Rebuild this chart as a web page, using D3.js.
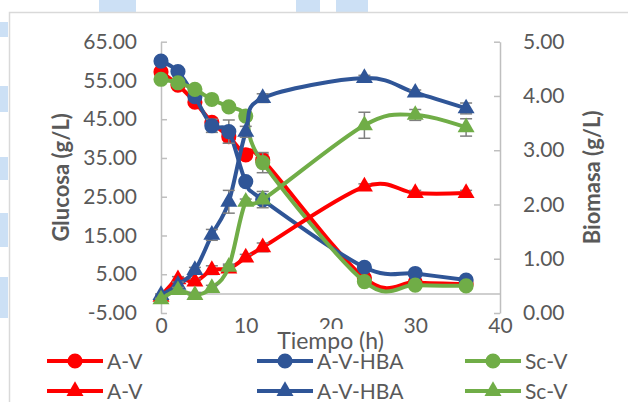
<!DOCTYPE html>
<html>
<head>
<meta charset="utf-8">
<script src="https://cdn.jsdelivr.net/npm/d3@7"></script>
<style>
  body { margin: 0; background: #fff; overflow: hidden; }
  text { font-family: Lato, "Open Sans", sans-serif; fill: #595959; }
</style>
</head>
<body>
<div id="chart-area"></div>
<script>
/******************************
*            DATA             *
******************************/
var tiempo = [0, 2, 4, 6, 8, 10, 12, 24, 30, 36];

// glucosa (eje izquierdo)
var glucAV    = [57.2, 53.8, 49.4, 44.2, 40.5, 35.8, 34.5, 4.0, 2.9, 2.5];
var glucAVHBA = [60.0, 57.3, 50.8, 43.3, 41.8, 28.9, 24.2, 6.8, 5.2, 3.5];
var glucScV   = [55.3, 54.4, 52.7, 50.1, 48.2, 45.8, 33.8, 3.1, 2.2, 2.0];
var errGlucAV    = [0.5, 0.5, 0.8, 1.0, 1.7, 1.0, 1.5, 0.3, 0.3, 0.3];
var errGlucAVHBA = [0.5, 0.5, 0.8, 1.7, 3.0, 1.0, 1.0, 0.5, 0.5, 0.3];
var errGlucScV   = [0.5, 0.5, 0.5, 0.5, 0.5, 1.0, 2.6, 0.3, 0.3, 0.3];

// biomasa (eje derecho)
var bioAV    = [0.30, 0.62, 0.58, 0.79, 0.82, 1.02, 1.21, 2.33, 2.21, 2.21];
var bioAVHBA = [0.33, 0.52, 0.79, 1.44, 2.05, 3.34, 3.96, 4.33, 4.06, 3.77];
var bioScV   = [0.25, 0.42, 0.33, 0.46, 0.85, 2.05, 2.09, 3.46, 3.65, 3.42];
var errBioAV    = [0.02, 0.05, 0.05, 0.08, 0.05, 0.06, 0.08, 0.05, 0.05, 0.05];
var errBioAVHBA = [0.02, 0.05, 0.05, 0.10, 0.21, 0.10, 0.08, 0.05, 0.05, 0.10];
var errBioScV   = [0.02, 0.05, 0.05, 0.05, 0.05, 0.05, 0.15, 0.24, 0.10, 0.16];

var leftTicks = [-5, 5, 15, 25, 35, 45, 55, 65];
var rightTicks = [0, 1, 2, 3, 4, 5];
var xTicks = [0, 10, 20, 30, 40];

var names = ["A-V", "A-V-HBA", "Sc-V"];
var colors = ["#FF0000", "#2F5597", "#70AD47"];

/******************************
*     DIMENSIONS AND SVG      *
******************************/
var W = 628, H = 402;
var plot = { left: 161, right: 500, top: 41.7, bottom: 313 };

var svg = d3.select("#chart-area")
  .append("svg")
    .attr("width", W)
    .attr("height", H);

// page decorations behind the chart
var deco = [[0, 22, 8, 15], [0, 86, 8, 26], [0, 157, 8, 23], [0, 213, 8, 34], [0, 277, 8, 41],
            [99, 0, 37, 12], [296, 0, 24, 12], [336, 0, 32, 12]];
svg.selectAll(".deco").data(deco).enter().append("rect")
  .attr("x", d => d[0]).attr("y", d => d[1])
  .attr("width", d => d[2]).attr("height", d => d[3])
  .attr("fill", "#CCE0F5");

// chart frame
svg.append("rect")
  .attr("x", 9.5).attr("y", 12.5)
  .attr("width", 660).attr("height", 420)
  .attr("fill", "#fff")
  .attr("stroke", "#D9D9D9")
  .attr("stroke-width", 1.5);

/******************************
*           SCALES            *
******************************/
var x = d3.scaleLinear().domain([0, 40]).range([plot.left, plot.right]);
var yL = d3.scaleLinear().domain([-5, 65]).range([plot.bottom, plot.top]);
var yR = d3.scaleLinear().domain([0, 5]).range([plot.bottom, plot.top]);

// hyphen instead of unicode minus, like the original
var fmt2 = d => d3.format(".2f")(d).replace("\u2212", "-");

/******************************
*            AXES             *
******************************/
function styleAxis(g) {
  g.select(".domain").attr("stroke", "#BFBFBF").attr("stroke-width", 1.5);
  g.selectAll(".tick line").attr("stroke", "#BFBFBF").attr("stroke-width", 1.5);
  g.selectAll("text").attr("fill", "#595959").style("font-size", "21px")
    .style("font-family", "Lato, sans-serif");
}

var yLAxis = svg.append("g")
  .attr("transform", "translate(" + plot.left + ",0)")
  .call(d3.axisLeft(yL).tickValues(leftTicks).tickFormat(fmt2)
        .tickSizeInner(-6).tickSizeOuter(0).tickPadding(24));
styleAxis(yLAxis);

var yRAxis = svg.append("g")
  .attr("transform", "translate(" + plot.right + ",0)")
  .call(d3.axisRight(yR).tickValues(rightTicks).tickFormat(fmt2)
        .tickSizeInner(-6).tickSizeOuter(0).tickPadding(23));
styleAxis(yRAxis);

var xAxis = svg.append("g")
  .attr("transform", "translate(0," + yL(0) + ")")
  .call(d3.axisBottom(x).tickValues(xTicks).tickFormat(d3.format("d"))
        .tickSize(0).tickPadding(24));
styleAxis(xAxis);

// axis titles
svg.append("text")
  .attr("transform", "translate(69," + ((plot.top + plot.bottom) / 2) + ") rotate(-90)")
  .attr("text-anchor", "middle")
  .style("font-size", "22px").style("font-weight", "bold")
  .text("Glucosa (g/L)");

svg.append("text")
  .attr("transform", "translate(600," + ((plot.top + plot.bottom) / 2) + ") rotate(-90)")
  .attr("text-anchor", "middle")
  .style("font-size", "22px").style("font-weight", "bold")
  .text("Biomasa (g/L)");

var xTitleBg = svg.append("rect").attr("fill", "#fff");
var xTitle = svg.append("text")
  .attr("x", (plot.left + plot.right) / 2)
  .attr("y", 349)
  .attr("text-anchor", "middle")
  .style("font-size", "23px")
  .text("Tiempo (h)");
var bb = xTitle.node().getBBox();
xTitleBg.attr("x", bb.x).attr("y", bb.y + 3).attr("width", bb.width).attr("height", bb.height - 3);

/******************************
*           SERIES            *
******************************/
var line = d3.line().curve(d3.curveCardinal.tension(0));
var circleSym = d3.symbol().type(d3.symbolCircle).size(180);
var triSym = d3.symbol().type(d3.symbolTriangle).size(125);

function drawSeries(vals, errs, yScale, color, sym) {
  var pts = tiempo.map((t, i) => ({ t: t, v: vals[i], e: errs[i] }));
  var g = svg.append("g");

  g.append("path")
    .attr("d", line(pts.map(d => [x(d.t), yScale(d.v)])))
    .attr("fill", "none")
    .attr("stroke", color)
    .attr("stroke-width", 4)
    .attr("stroke-linejoin", "round");

  // error bars
  var eb = g.selectAll(".err").data(pts).enter().append("g")
    .attr("stroke", "#7F7F7F").attr("stroke-width", 1.5);
  eb.append("line")
    .attr("x1", d => x(d.t)).attr("x2", d => x(d.t))
    .attr("y1", d => yScale(d.v - d.e)).attr("y2", d => yScale(d.v + d.e));
  [-1, 1].forEach(function(s) {
    eb.append("line")
      .attr("x1", d => x(d.t) - 6).attr("x2", d => x(d.t) + 6)
      .attr("y1", d => yScale(d.v + s * d.e)).attr("y2", d => yScale(d.v + s * d.e));
  });

  g.selectAll(".mk").data(pts).enter().append("path")
    .attr("d", sym)
    .attr("transform", d => "translate(" + x(d.t) + "," + yScale(d.v) + ")")
    .attr("fill", color);
}

drawSeries(glucAV, errGlucAV, yL, colors[0], circleSym);
drawSeries(glucAVHBA, errGlucAVHBA, yL, colors[1], circleSym);
drawSeries(glucScV, errGlucScV, yL, colors[2], circleSym);
drawSeries(bioAV, errBioAV, yR, colors[0], triSym);
drawSeries(bioAVHBA, errBioAVHBA, yR, colors[1], triSym);
drawSeries(bioScV, errBioScV, yR, colors[2], triSym);

/******************************
*           LEGEND            *
******************************/
var legendX = [75, 285, 493];
var legendRows = [{ y: 361, sym: circleSym }, { y: 391, sym: triSym }];

legendRows.forEach(function(row) {
  names.forEach(function(n, i) {
    var g = svg.append("g").attr("transform", "translate(" + legendX[i] + "," + row.y + ")");
    g.append("line").attr("x1", -28).attr("x2", 28)
      .attr("stroke", colors[i]).attr("stroke-width", 4);
    g.append("path").attr("d", row.sym).attr("fill", colors[i]);
    g.append("text").attr("x", 32).attr("dy", "0.36em")
      .style("font-size", "21px").text(n);
  });
});
</script>
</body>
</html>
